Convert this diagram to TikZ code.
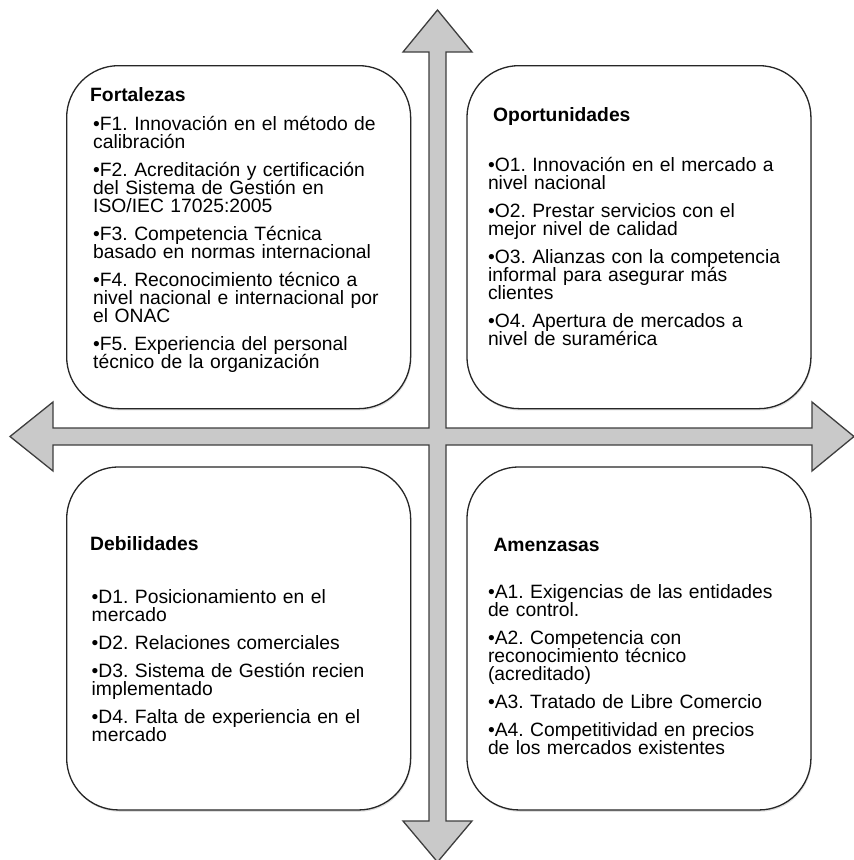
\documentclass[tikz,border=0pt]{standalone}
\usepackage{fontspec}
\setmainfont{Liberation Sans}
\usetikzlibrary{positioning,shadows}
\definecolor{arrowfill}{RGB}{201,201,201}
\definecolor{arrowline}{RGB}{62,62,62}
\newcommand{\swotfont}{\fontsize{19.3pt}{18pt}\selectfont\frenchspacing\lineskiplimit=-\maxdimen\parskip=10pt}
\newcommand{\swotitem}[1]{\hangindent=6.75pt\hangafter=1\noindent •#1\par}
\tikzstyle{quad} = [rectangle, draw=black!85, line width=1.3pt, fill=white,
rounded corners=52pt, minimum width=344pt, minimum height=343pt,
drop shadow={shadow xshift=0.8pt, shadow yshift=-1.8pt, opacity=0.25}]
\tikzstyle{qtitle} = [anchor=base west, inner sep=0pt, font=\swotfont\bfseries]
\tikzstyle{qlist} = [anchor=base west, inner sep=0pt, text width=340pt, font=\swotfont]
\tikzstyle{bigarrow} = [draw=arrowline, fill=arrowfill, line width=1.3pt, line join=miter]

\begin{document}
\begin{tikzpicture}[x=1pt, y=-1pt]
    \useasboundingbox (0,0) rectangle (854,860);
    % four-way arrow
    \draw [bigarrow] (437.5,10) -- (472,52) -- (446,52) -- (446,428) -- (812,428)
        -- (812,402) -- (854,436.5) -- (812,471) -- (812,445) -- (446,445)
        -- (446,821) -- (472,821) -- (437.5,862) -- (403,821) -- (429,821)
        -- (429,445) -- (53,445) -- (53,471) -- (10,436.5) -- (53,402)
        -- (53,428) -- (429,428) -- (429,52) -- (403,52) -- cycle;

    % boxes
    \node [quad, anchor=north west] (fort) at (66,65) {};
    \node [quad, right=55pt of fort] (opor) {};
    \node [quad, below=57pt of fort] (debil) {};
    \node [quad, right=55pt of debil] (amen) {};

    % titles
    \node [qtitle] (fortT) at ([shift={(24,36)}]fort.north west) {Fortalezas};
    \node [qtitle] (oporT) at ([shift={(26.7,56.7)}]opor.north west) {Oportunidades};
    \node [qtitle] (debilT) at ([shift={(24,84.3)}]debil.north west) {Debilidades};
    \node [qtitle] (amenT) at ([shift={(27,85)}]amen.north west) {Amenzasas};

    % lists
    \node [qlist] (fortL) at ([shift={(27,65)}]fort.north west) {%
        \swotitem{F1. Innovación en el método de\\calibración}%
        \swotitem{F2. Acreditación y certificación\\del Sistema de Gestión en\\ISO/IEC 17025:2005}%
        \swotitem{F3. Competencia Técnica\\basado en normas internacional}%
        \swotitem{F4. Reconocimiento técnico a\\nivel nacional e internacional por\\el ONAC}%
        \swotitem{F5. Experiencia del personal\\técnico de la organización}};
    \node [qlist] (oporL) at ([shift={(21.5,106.7)}]opor.north west) {%
        \swotitem{O1. Innovación en el mercado a\\nivel nacional}%
        \swotitem{O2. Prestar servicios con el\\mejor nivel de calidad}%
        \swotitem{O3. Alianzas con la competencia\\informal para asegurar más\\clientes}%
        \swotitem{O4. Apertura de mercados a\\nivel de suramérica}};
    \node [qlist] (debilL) at ([shift={(25.5,136.7)}]debil.north west) {%
        \swotitem{D1. Posicionamiento en el\\mercado}%
        \swotitem{D2. Relaciones comerciales}%
        \swotitem{D3. Sistema de Gestión recien\\implementado}%
        \swotitem{D4. Falta de experiencia en el\\mercado}};
    \node [qlist] (amenL) at ([shift={(21.5,132)}]amen.north west) {%
        \swotitem{A1. Exigencias de las entidades\\de control.}%
        \swotitem{A2. Competencia con\\reconocimiento técnico\\(acreditado)}%
        \swotitem{A3. Tratado de Libre Comercio}%
        \swotitem{A4. Competitividad en precios\\de los mercados existentes}};
\end{tikzpicture}
\end{document}
